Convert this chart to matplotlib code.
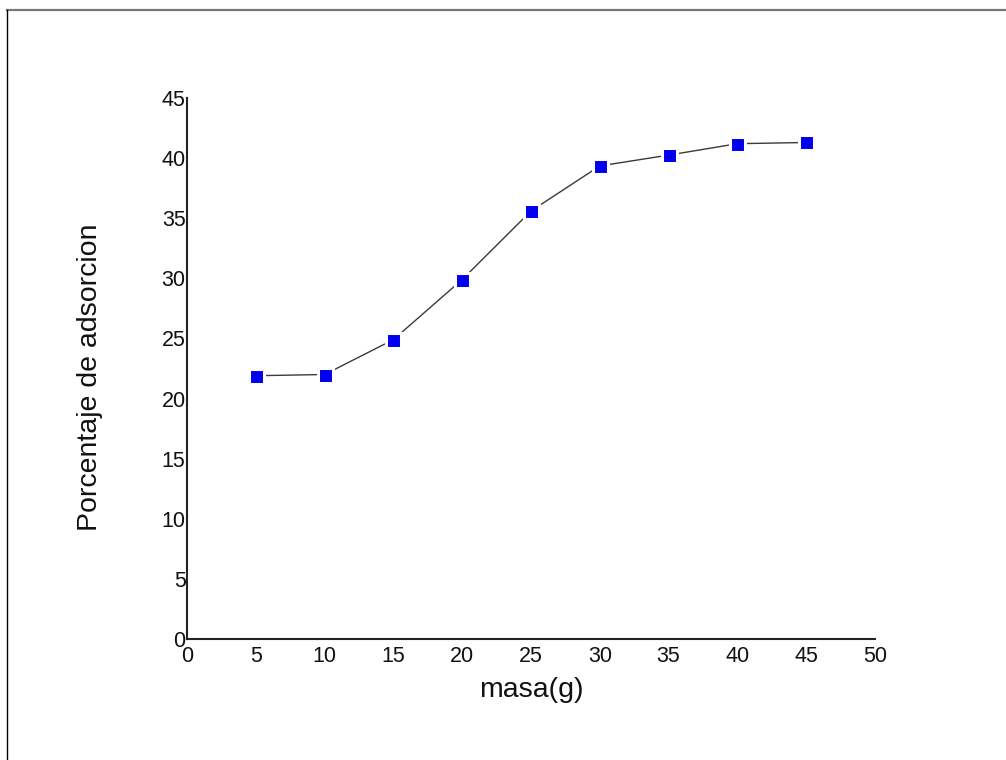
import matplotlib

matplotlib.use("Agg")
import matplotlib.pyplot as plt
from matplotlib.lines import Line2D

# data
masa = [5, 10, 15, 20, 25, 30, 35, 40, 45]
adsorcion = [21.9, 22.0, 24.9, 29.9, 35.6, 39.35, 40.25, 41.2, 41.3]
x_ticks = [0, 5, 10, 15, 20, 25, 30, 35, 40, 45, 50]
y_ticks = [0, 5, 10, 15, 20, 25, 30, 35, 40, 45]

plt.rcParams["font.family"] = ["Liberation Sans", "DejaVu Sans"]

W, H = 1006, 760
fig = plt.figure(figsize=(W / 100, H / 100), dpi=100)
ax = fig.add_axes([187 / W, 121 / H, 688 / W, 541 / H])

# white marker edge leaves the small gap between line and square
ax.plot(masa, adsorcion, color="#3a3a3a", lw=1.0, marker="s", ms=10.8,
        mfc="#0000ee", mec="white", mew=2.2, clip_on=False)

ax.set_xlim(0, 50)
ax.set_ylim(0, 45)
ax.set_xticks(x_ticks)
ax.set_yticks(y_ticks)
ax.tick_params(length=0, labelsize=15.5, colors="#111111")
ax.tick_params(axis="x", pad=5)
ax.tick_params(axis="y", pad=1)

for side in ("top", "right"):
    ax.spines[side].set_visible(False)
for side in ("left", "bottom"):
    ax.spines[side].set_linewidth(1.5)
    ax.spines[side].set_color("#222222")

ax.set_xlabel("masa(g)", fontsize=20.5, color="#111111")
ax.set_ylabel("Porcentaje de adsorcion", fontsize=20.5, color="#111111")
ax.xaxis.set_label_coords(0.5, -0.07)
ax.yaxis.set_label_coords(-0.122, 0.484)

# partial frame around the picture (top and left edges only)
fig.add_artist(Line2D([7 / W, 1.0], [1 - 9.5 / H, 1 - 9.5 / H],
                      transform=fig.transFigure, color="#777777", lw=1.6))
fig.add_artist(Line2D([7.3 / W, 7.3 / W], [0.0, 1 - 10 / H],
                      transform=fig.transFigure, color="black", lw=1.0))

fig.savefig("out.png", dpi=100)
